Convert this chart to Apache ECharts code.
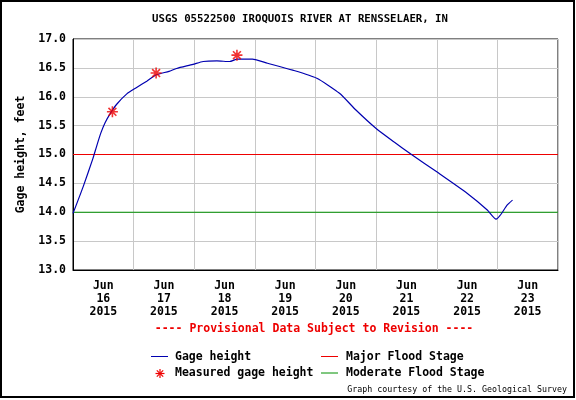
<!DOCTYPE html>
<html>
<head>
<meta charset="utf-8">
<script src="https://cdn.jsdelivr.net/npm/echarts@6/dist/echarts.min.js"></script>
<style>
html,body{margin:0;padding:0;background:#fff;}
#c{width:576px;height:400px;}
</style>
</head>
<body>
<div id="c"></div>
<script>
// Data (hours since Jun 16 2015 00:00)
const gageHours = [0, 4, 7.8, 9.4, 11, 12.7, 14.6, 17.3, 21.3, 25.2, 29.2, 33, 38, 41, 47.5, 51.5, 57, 62, 65, 71, 77, 87, 96.5, 105.5, 112, 120, 127, 134, 144, 156, 164, 167.5, 169, 172, 174];
const gageHeights = [13.98, 14.44, 14.92, 15.15, 15.37, 15.55, 15.70, 15.87, 16.05, 16.16, 16.27, 16.38, 16.44, 16.49, 16.56, 16.61, 16.62, 16.61, 16.65, 16.65, 16.58, 16.46, 16.32, 16.06, 15.77, 15.45, 15.22, 15.0, 14.70, 14.33, 14.04, 13.88, 13.94, 14.13, 14.21];
const measuredHours = [15.6, 32.9, 64.9];
const measuredHeights = [15.74, 16.41, 16.72];
const majorFloodStage = 15.0;
const moderateFloodStage = 14.0;
const dayLabels = ['Jun\n16\n2015', 'Jun\n17\n2015', 'Jun\n18\n2015', 'Jun\n19\n2015', 'Jun\n20\n2015', 'Jun\n21\n2015', 'Jun\n22\n2015', 'Jun\n23\n2015'];
const xMinHours = 0, xMaxHours = 192;
const yTicks = [13.0, 13.5, 14.0, 14.5, 15.0, 15.5, 16.0, 16.5, 17.0];
const titleText = 'USGS 05522500 IROQUOIS RIVER AT RENSSELAER, IN';

const MONO = '"DejaVu Sans Mono", "Liberation Mono", monospace';
const BLUE = '#0000b0', RED = '#ee0000', GREEN = '#009000';
const STAR = 'path://M0,-6L0,6M-6,0L6,0M-4.3,-4.3L4.3,4.3M-4.3,4.3L4.3,-4.3';

function starLines(cx, cy, r) {
  const d = r * 0.71;
  const segs = [[0, -r, 0, r], [-r, 0, r, 0], [-d, -d, d, d], [-d, d, d, -d]];
  return segs.map(s => ({type: 'line', shape: {x1: cx + s[0], y1: cy + s[1], x2: cx + s[2], y2: cy + s[3]},
    style: {stroke: RED, lineWidth: 1.2}}));
}

const chart = echarts.init(document.getElementById('c'), null, {renderer: 'canvas'});
chart.setOption({
  animation: false,
  backgroundColor: '#fff',
  grid: {left: 73, top: 39, right: 18, bottom: 130, show: true, borderColor: '#000', borderWidth: 1, backgroundColor: '#fff'},
  xAxis: [
    {type: 'value', min: xMinHours, max: xMaxHours, interval: 24,
     axisLabel: {show: false}, axisTick: {show: false},
     axisLine: {show: true, lineStyle: {color: '#000', width: 1}},
     splitLine: {show: true, lineStyle: {color: '#c8c8c8', width: 1}}},
    {type: 'category', data: dayLabels, boundaryGap: true, position: 'bottom',
     axisLine: {show: false}, axisTick: {show: false}, splitLine: {show: false},
     axisLabel: {color: '#000', fontFamily: MONO, fontWeight: 'bold', fontSize: 11.5, lineHeight: 13, margin: 10, interval: 0}}
  ],
  yAxis: {
    type: 'value', min: yTicks[0], max: yTicks[yTicks.length - 1], interval: 0.5,
    name: 'Gage height, feet', nameLocation: 'middle', nameGap: 46, nameRotate: 90,
    nameTextStyle: {color: '#000', fontFamily: MONO, fontWeight: 'bold', fontSize: 11.5},
    axisLine: {show: true, lineStyle: {color: '#000'}}, axisTick: {show: false},
    axisLabel: {color: '#000', fontFamily: MONO, fontWeight: 'bold', fontSize: 11.5, margin: 7,
                formatter: v => v.toFixed(1)},
    splitLine: {show: true, lineStyle: {color: '#c8c8c8', width: 1}}
  },
  series: [
    {name: 'Major Flood Stage', type: 'line', xAxisIndex: 0, symbol: 'none',
     data: [[xMinHours, majorFloodStage], [xMaxHours, majorFloodStage]],
     lineStyle: {color: RED, width: 1}, z: 2},
    {name: 'Moderate Flood Stage', type: 'line', xAxisIndex: 0, symbol: 'none',
     data: [[xMinHours, moderateFloodStage], [xMaxHours, moderateFloodStage]],
     lineStyle: {color: GREEN, width: 1}, z: 2},
    {name: 'Gage height', type: 'line', xAxisIndex: 0, symbol: 'none', smooth: 0.2,
     data: gageHours.map((h, i) => [h, gageHeights[i]]),
     lineStyle: {color: BLUE, width: 1.2}, z: 3},
    {name: 'Measured gage height', type: 'scatter', xAxisIndex: 0,
     data: measuredHours.map((h, i) => [h, measuredHeights[i]]),
     symbol: STAR, symbolSize: 11,
     itemStyle: {color: RED, borderColor: RED, borderWidth: 1.6}, z: 4}
  ],
  graphic: [
    {type: 'rect', shape: {x: 1, y: 1, width: 573, height: 396}, style: {fill: 'none', stroke: '#000', lineWidth: 2}, silent: true, z: 100},
    {type: 'text', x: 300, y: 19, style: {text: titleText, fill: '#000', font: 'bold 10.7px ' + MONO, textAlign: 'center', textVerticalAlign: 'middle'}},
    {type: 'text', x: 314, y: 329, style: {text: '---- Provisional Data Subject to Revision ----', fill: RED, font: 'bold 11.5px ' + MONO, textAlign: 'center', textVerticalAlign: 'middle'}},
    {type: 'line', shape: {x1: 151, y1: 356.5, x2: 168, y2: 356.5}, style: {stroke: BLUE, lineWidth: 1}},
    {type: 'text', x: 175, y: 357, style: {text: 'Gage height', fill: '#000', font: 'bold 11.5px ' + MONO, textVerticalAlign: 'middle'}},
    {type: 'line', shape: {x1: 321, y1: 356.5, x2: 338, y2: 356.5}, style: {stroke: RED, lineWidth: 1}},
    {type: 'text', x: 346, y: 357, style: {text: 'Major Flood Stage', fill: '#000', font: 'bold 11.5px ' + MONO, textVerticalAlign: 'middle'}},
    ...starLines(160, 373.5, 4.5),
    {type: 'text', x: 175, y: 373.5, style: {text: 'Measured gage height', fill: '#000', font: 'bold 11.5px ' + MONO, textVerticalAlign: 'middle'}},
    {type: 'line', shape: {x1: 321, y1: 373, x2: 338, y2: 373}, style: {stroke: GREEN, lineWidth: 1}},
    {type: 'text', x: 346, y: 373.5, style: {text: 'Moderate Flood Stage', fill: '#000', font: 'bold 11.5px ' + MONO, textVerticalAlign: 'middle'}},
    {type: 'text', x: 567, y: 390, style: {text: 'Graph courtesy of the U.S. Geological Survey', fill: '#000', font: '8.3px ' + MONO, textAlign: 'right', textVerticalAlign: 'middle'}}
  ]
});
</script>
</body>
</html>
